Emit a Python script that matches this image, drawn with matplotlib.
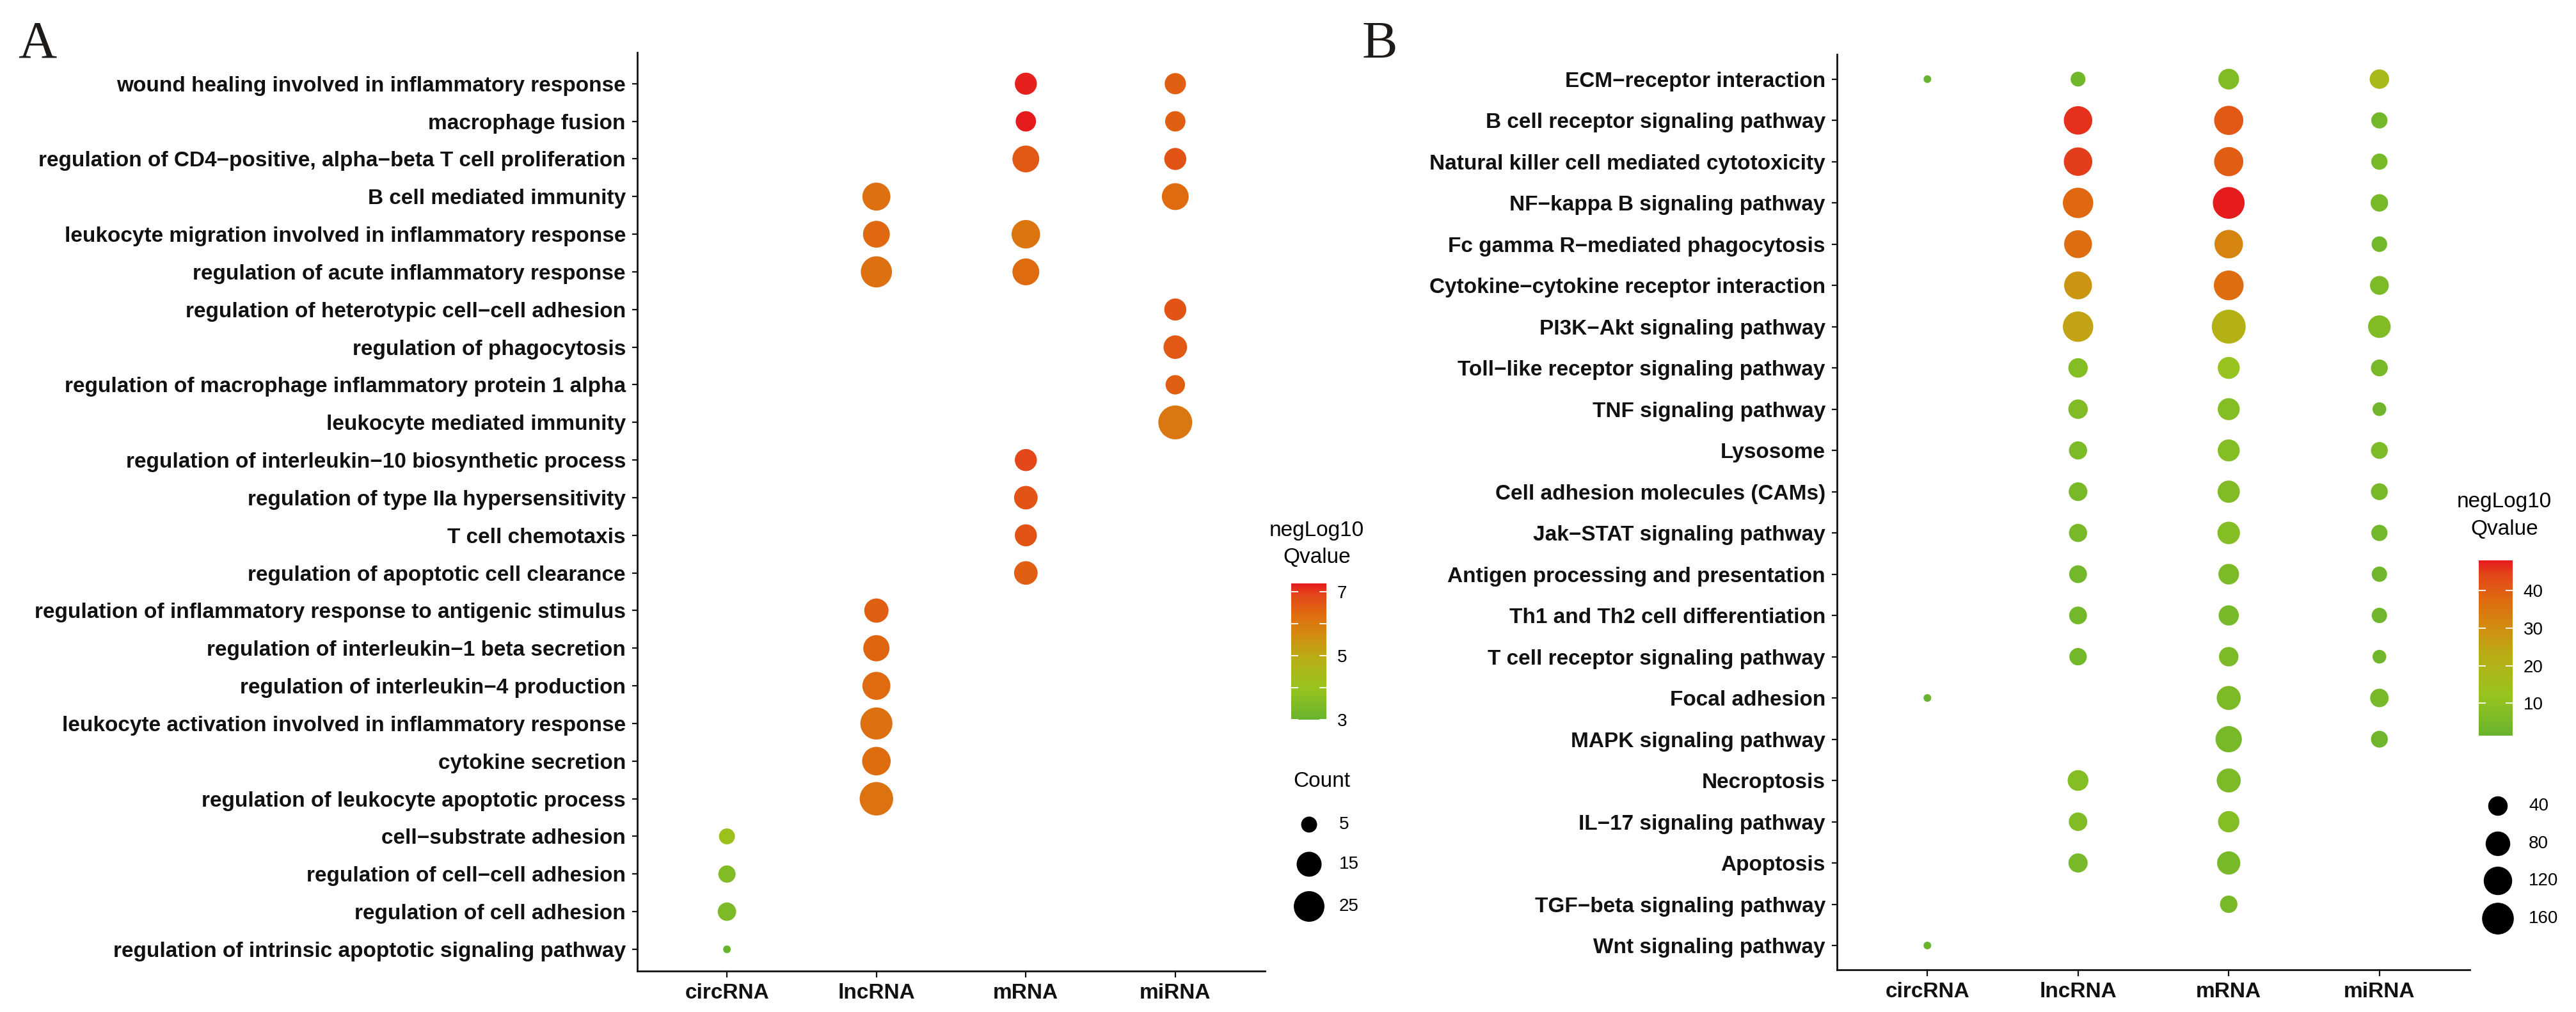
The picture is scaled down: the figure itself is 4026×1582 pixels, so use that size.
import numpy as np
import matplotlib
matplotlib.use("Agg")
import matplotlib.pyplot as plt
from matplotlib.colors import LinearSegmentedColormap, Normalize
from matplotlib.cm import ScalarMappable

W, H, DPI = 4026, 1582, 100
plt.rcParams["font.family"] = ["Liberation Sans", "DejaVu Sans"]

columns = ["circRNA", "lncRNA", "mRNA", "miRNA"]
M = "\u2212"

# ---------------- Panel A data ----------------
a_rows = [
    "wound healing involved in inflammatory response",
    "macrophage fusion",
    f"regulation of CD4{M}positive, alpha{M}beta T cell proliferation",
    "B cell mediated immunity",
    "leukocyte migration involved in inflammatory response",
    "regulation of acute inflammatory response",
    f"regulation of heterotypic cell{M}cell adhesion",
    "regulation of phagocytosis",
    "regulation of macrophage inflammatory protein 1 alpha",
    "leukocyte mediated immunity",
    f"regulation of interleukin{M}10 biosynthetic process",
    "regulation of type IIa hypersensitivity",
    "T cell chemotaxis",
    "regulation of apoptotic cell clearance",
    "regulation of inflammatory response to antigenic stimulus",
    f"regulation of interleukin{M}1 beta secretion",
    f"regulation of interleukin{M}4 production",
    "leukocyte activation involved in inflammatory response",
    "cytokine secretion",
    "regulation of leukocyte apoptotic process",
    f"cell{M}substrate adhesion",
    f"regulation of cell{M}cell adhesion",
    "regulation of cell adhesion",
    "regulation of intrinsic apoptotic signaling pathway",
]
a_term = [0, 0, 1, 1, 2, 2, 3, 3, 4, 4, 5, 5, 6, 7, 8, 9, 10, 11, 12, 13,
          14, 15, 16, 17, 18, 19, 20, 21, 22, 23]
a_type = ["mRNA", "miRNA", "mRNA", "miRNA", "mRNA", "miRNA", "lncRNA", "miRNA",
          "lncRNA", "mRNA", "lncRNA", "mRNA", "miRNA", "miRNA", "miRNA", "miRNA",
          "mRNA", "mRNA", "mRNA", "mRNA", "lncRNA", "lncRNA", "lncRNA", "lncRNA",
          "lncRNA", "lncRNA", "circRNA", "circRNA", "circRNA", "circRNA"]
a_count = [11, 10, 9, 9, 18, 11, 20, 18, 18, 21, 26, 18, 11, 13, 8, 32,
           11, 13, 11, 13, 14, 17, 20, 28, 21, 31, 5, 6, 7, 2]
a_q = [7.2, 6.5, 7.25, 6.5, 6.6, 6.7, 6.2, 6.3, 6.35, 6.1, 6.2, 6.3, 6.7, 6.6, 6.5, 6.05,
       6.9, 6.7, 6.7, 6.5, 6.5, 6.4, 6.3, 6.2, 6.25, 6.15, 4.1, 3.5, 3.4, 3.0]

# ---------------- Panel B data ----------------
b_rows = [
    f"ECM{M}receptor interaction",
    "B cell receptor signaling pathway",
    "Natural killer cell mediated cytotoxicity",
    f"NF{M}kappa B signaling pathway",
    f"Fc gamma R{M}mediated phagocytosis",
    f"Cytokine{M}cytokine receptor interaction",
    f"PI3K{M}Akt signaling pathway",
    f"Toll{M}like receptor signaling pathway",
    "TNF signaling pathway",
    "Lysosome",
    "Cell adhesion molecules (CAMs)",
    f"Jak{M}STAT signaling pathway",
    "Antigen processing and presentation",
    "Th1 and Th2 cell differentiation",
    "T cell receptor signaling pathway",
    "Focal adhesion",
    "MAPK signaling pathway",
    "Necroptosis",
    f"IL{M}17 signaling pathway",
    "Apoptosis",
    f"TGF{M}beta signaling pathway",
    "Wnt signaling pathway",
]
b_term = [0, 0, 0, 0, 1, 1, 1, 2, 2, 2, 3, 3, 3, 4, 4, 4, 5, 5, 5, 6, 6, 6,
          7, 7, 7, 8, 8, 8, 9, 9, 9, 10, 10, 10, 11, 11, 11, 12, 12, 12,
          13, 13, 13, 14, 14, 14, 15, 15, 15, 16, 16, 17, 17, 18, 18, 19, 19, 20, 21]
b_type = ["circRNA", "lncRNA", "mRNA", "miRNA"] + ["lncRNA", "mRNA", "miRNA"] * 14 + \
         ["circRNA", "mRNA", "miRNA", "mRNA", "miRNA", "lncRNA", "mRNA",
          "lncRNA", "mRNA", "lncRNA", "mRNA", "mRNA", "circRNA"]
b_count = [2, 16, 49, 40,
           120, 128, 22,
           120, 128, 22,
           143, 160, 28,
           113, 120, 19,
           113, 135, 36,
           143, 190, 63,
           40, 58, 25,
           40, 58, 12,
           32, 58, 25,
           35, 60, 25,
           32, 62, 22,
           30, 48, 18,
           30, 45, 18,
           28, 40, 12,
           2, 75, 34,
           97, 25,
           49, 75,
           34, 53,
           38, 68,
           28,
           2]
b_q = [1.4, 3.5, 7, 17,
       46, 41, 4,
       45, 40, 4.5,
       38, 48, 5,
       37, 32, 4,
       28, 37, 6,
       25, 21, 7,
       8, 12, 5,
       7, 8, 3,
       6, 8, 6,
       5, 7, 5,
       5, 8, 4,
       4, 6, 3,
       4, 5, 3,
       4, 6, 3,
       1.5, 6, 5,
       5, 3,
       8, 6,
       7, 8,
       5, 5,
       5,
       1.5]

# ---------------- style helpers ----------------
cmap = LinearSegmentedColormap.from_list("gr", [
    (0.0, "#68b42e"), (0.23, "#98c41e"), (0.45, "#b8ae16"), (0.62, "#d38c10"),
    (0.78, "#df6a10"), (0.92, "#e4461a"), (1.0, "#e61b1e")])

D_LO, D_HI = 12.0, 53.0


def size_pts(c, cmin, cmax):
    c = np.asarray(c, dtype=float)
    d = D_LO + (D_HI - D_LO) * np.sqrt((c - cmin) / (cmax - cmin))
    return (d * 72.0 / DPI) ** 2


def rect(x0, y0, x1, y1):
    return [x0 / W, 1 - y1 / H, (x1 - x0) / W, (y1 - y0) / H]


fig = plt.figure(figsize=(W / DPI, H / DPI), dpi=DPI)
fig.patch.set_facecolor("white")


def panel(box, rows, term, typ, count, q, ylim):
    ax = fig.add_axes(rect(*box))
    n = len(rows)
    xs = [columns.index(t) for t in typ]
    ys = [n - 1 - i for i in term]
    cmin, cmax = min(count), max(count)
    norm = Normalize(min(q), max(q))
    ax.scatter(xs, ys, s=size_pts(count, cmin, cmax), c=q, cmap=cmap, norm=norm,
               edgecolors="none", zorder=3)
    ax.set_xlim(-0.6, 3.6)
    ax.set_ylim(*ylim)
    ax.set_xticks(range(4))
    ax.set_xticklabels(columns, fontsize=24, fontweight="bold")
    ax.set_yticks(range(n))
    ax.set_yticklabels(rows[::-1], fontsize=24, fontweight="bold")
    for s in ["top", "right"]:
        ax.spines[s].set_visible(False)
    for s in ["left", "bottom"]:
        ax.spines[s].set_linewidth(2.0)
        ax.spines[s].set_color("#111111")
    ax.tick_params(axis="y", length=6, width=1.6, pad=7, colors="#111111")
    ax.tick_params(axis="x", length=7, width=1.6, pad=7, colors="#111111")
    return ax, norm, cmin, cmax


axA, normA, cminA, cmaxA = panel((996, 82, 1977, 1518), a_rows, a_term, a_type,
                                 a_count, a_q, (-0.578, 23.83))
axB, normB, cminB, cmaxB = panel((2871, 85, 3860, 1516), b_rows, b_term, b_type,
                                 b_count, b_q, (-0.589, 21.6))


def colorbar(box, norm, ticks, labels):
    cax = fig.add_axes(rect(*box))
    cb = fig.colorbar(ScalarMappable(norm=norm, cmap=cmap), cax=cax)
    cb.outline.set_visible(False)
    cb.set_ticks(ticks)
    cb.set_ticklabels(labels)
    cax.tick_params(axis="y", direction="in", left=True, right=True, length=8,
                    width=1.3, color="white", labelcolor="black", labelsize=20,
                    pad=12)
    return cb


colorbar((2018, 912, 2073, 1125), normA, [3, 4, 5, 6, 7], ["3", "", "5", "", "7"])
colorbar((3874, 876, 3927, 1150), normB, [10, 20, 30, 40], ["10", "20", "30", "40"])

# colorbar titles
for cx, y1, y2 in [(2058, 829, 872), (3914, 785, 827)]:
    fig.text(cx / W, 1 - y1 / H, "negLog10", ha="center", va="center", fontsize=24)
    fig.text(cx / W, 1 - y2 / H, "Qvalue", ha="center", va="center", fontsize=24)

# size legends drawn on an overlay axes in pixel coordinates
ov = fig.add_axes([0, 0, 1, 1], zorder=5)
ov.set_xlim(0, W)
ov.set_ylim(H, 0)
ov.axis("off")
ov.patch.set_alpha(0)

legA_counts = [5, 15, 25]
legA_y = [1289, 1351, 1417]
ov.scatter([2046] * 3, legA_y, s=size_pts(legA_counts, cminA, cmaxA), c="black",
           edgecolors="none")
for c, y in zip(legA_counts, legA_y):
    ov.text(2093, y, str(c), ha="left", va="center", fontsize=20)
ov.text(2021, 1222, "Count", ha="left", va="center", fontsize=24)

legB_counts = [40, 80, 120, 160]
legB_y = [1260, 1319, 1377, 1436]
ov.scatter([3904] * 4, legB_y, s=size_pts(legB_counts, cminB, cmaxB), c="black",
           edgecolors="none")
for c, y in zip(legB_counts, legB_y):
    ov.text(3952, y, str(c), ha="left", va="center", fontsize=20)

# panel letters
fig.text(28 / W, 1 - 90 / H, "A", family=["Liberation Serif", "DejaVu Serif"],
         fontsize=60, color="#1e1a17", va="baseline")
fig.text(2129 / W, 1 - 90 / H, "B", family=["Liberation Serif", "DejaVu Serif"],
         fontsize=60, color="#1e1a17", va="baseline")

fig.savefig("out.png", dpi=DPI, facecolor="white")
